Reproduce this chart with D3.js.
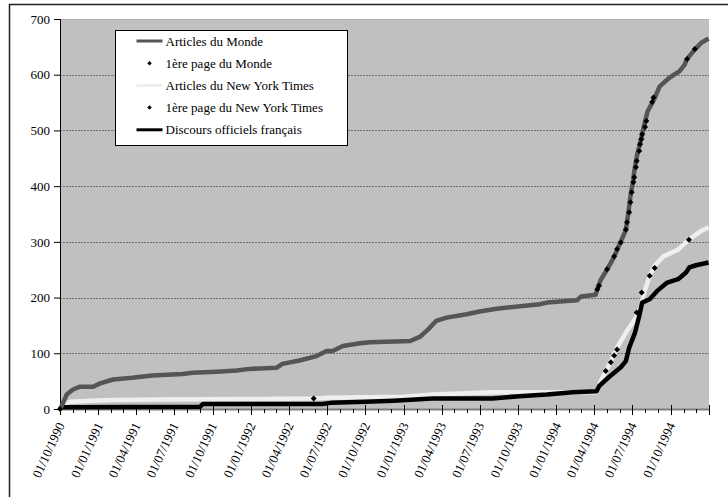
<!DOCTYPE html>
<html>
<head>
<meta charset="utf-8">
<title>Articles et discours</title>
<script src="https://cdn.jsdelivr.net/npm/d3@7"></script>
<style>
body { margin: 0; background: #fff; }
svg { display: block; }
</style>
</head>
<body>
<script>
// Cumulative counts, [date, value]
const mondeArticles = [
  ["1990-10-01", 0], ["1990-10-05", 5], ["1990-10-17", 26], ["1990-11-01", 35], ["1990-11-18", 40],
  ["1990-12-19", 40], ["1991-01-05", 46], ["1991-02-05", 53], ["1991-03-23", 56], ["1991-05-10", 60],
  ["1991-07-21", 63], ["1991-08-14", 65], ["1991-10-11", 67], ["1991-11-28", 69], ["1991-12-29", 72],
  ["1992-03-02", 74], ["1992-03-16", 81], ["1992-04-26", 87], ["1992-06-06", 95], ["1992-06-30", 104],
  ["1992-07-14", 104], ["1992-08-08", 113], ["1992-09-18", 118], ["1992-10-11", 120], ["1993-01-16", 122],
  ["1993-02-09", 130], ["1993-02-28", 143], ["1993-03-19", 158], ["1993-04-13", 164], ["1993-05-31", 170],
  ["1993-07-01", 175], ["1993-08-11", 180], ["1993-11-22", 188], ["1993-12-09", 191], ["1994-02-19", 195],
  ["1994-03-01", 202], ["1994-04-05", 205], ["1994-04-08", 214], ["1994-04-17", 232], ["1994-05-02", 250],
  ["1994-05-19", 273], ["1994-06-04", 301], ["1994-06-16", 321], ["1994-06-22", 352], ["1994-06-27", 382],
  ["1994-07-04", 412], ["1994-07-06", 426], ["1994-07-13", 456], ["1994-07-22", 483], ["1994-07-30", 510],
  ["1994-08-07", 534], ["1994-08-24", 558], ["1994-09-05", 579], ["1994-09-29", 595], ["1994-10-22", 606],
  ["1994-11-04", 618], ["1994-11-08", 627], ["1994-11-28", 645], ["1994-12-13", 657], ["1994-12-31", 665]
];

const mondeUne = [
  ["1990-10-01", 0], ["1994-04-09", 215], ["1994-04-13", 221], ["1994-05-02", 251], ["1994-05-19", 274],
  ["1994-05-26", 287], ["1994-06-04", 299], ["1994-06-16", 322], ["1994-06-19", 335], ["1994-06-24", 353],
  ["1994-06-27", 371], ["1994-06-30", 389], ["1994-07-04", 407], ["1994-07-06", 416], ["1994-07-10", 434],
  ["1994-07-12", 445], ["1994-07-18", 463], ["1994-07-20", 475], ["1994-07-23", 484], ["1994-07-25", 493],
  ["1994-08-01", 506], ["1994-08-04", 517], ["1994-08-18", 551], ["1994-08-21", 559], ["1994-11-10", 628],
  ["1994-11-28", 646]
];

const nytArticles = [
  ["1990-10-01", 0], ["1990-10-10", 8], ["1990-10-25", 13], ["1990-12-15", 15], ["1991-02-01", 16],
  ["1991-06-01", 17], ["1992-01-01", 18], ["1992-05-30", 19], ["1992-07-01", 20], ["1992-10-01", 21],
  ["1993-01-01", 22], ["1993-03-10", 26], ["1993-08-01", 30], ["1993-12-09", 30], ["1994-04-07", 30],
  ["1994-04-17", 50], ["1994-05-02", 71], ["1994-05-26", 110], ["1994-06-16", 137], ["1994-07-10", 164],
  ["1994-07-22", 185], ["1994-07-30", 209], ["1994-08-12", 239], ["1994-08-24", 257], ["1994-09-14", 274],
  ["1994-10-19", 286], ["1994-11-14", 304], ["1994-12-12", 319], ["1994-12-31", 326]
];

const nytUne = [
  ["1992-05-30", 19], ["1994-04-29", 68], ["1994-05-11", 84], ["1994-05-19", 96], ["1994-05-26", 107],
  ["1994-07-12", 173], ["1994-07-24", 209], ["1994-08-12", 239], ["1994-08-24", 253], ["1994-11-14", 304]
];

const discours = [
  ["1990-10-01", 0], ["1990-10-05", 3], ["1991-09-01", 4], ["1991-09-08", 9], ["1992-06-20", 9],
  ["1992-07-10", 11], ["1992-10-01", 13], ["1992-12-07", 15], ["1993-03-10", 19], ["1993-08-01", 19],
  ["1993-10-04", 23], ["1993-12-09", 26], ["1994-02-09", 30], ["1994-04-07", 32], ["1994-04-13", 41],
  ["1994-05-06", 57], ["1994-06-04", 75], ["1994-06-16", 86], ["1994-06-24", 110], ["1994-07-08", 137],
  ["1994-07-18", 167], ["1994-07-25", 191], ["1994-08-12", 197], ["1994-08-30", 212], ["1994-09-23", 227],
  ["1994-10-19", 233], ["1994-11-07", 245], ["1994-11-15", 254], ["1994-12-01", 258], ["1994-12-31", 263]
];

const legendLabels = [
  "Articles du Monde", "1ère page du Monde", "Articles du New York Times",
  "1ère page du New York Times", "Discours officiels français"
];
const yTicks = [0, 100, 200, 300, 400, 500, 600, 700];

const W = 728, H = 497;
const plot = { left: 60, right: 709, top: 19, bottom: 409 };
const FONT = "'Liberation Serif', 'Times New Roman', serif";

const parse = d3.timeParse("%Y-%m-%d");
const fmt = d3.timeFormat("%d/%m/%Y");
const toPts = arr => arr.map(d => ({ date: parse(d[0]), value: d[1] }));

const x = d3.scaleTime()
  .domain([parse("1990-10-01"), parse("1995-01-01")])
  .range([plot.left, plot.right]);
const y = d3.scaleLinear().domain([0, 700]).range([plot.bottom, plot.top]);

const svg = d3.select("body").append("svg").attr("width", W).attr("height", H);

// chart frame
svg.append("rect")
  .attr("x", 9.5).attr("y", 4.5).attr("width", 800).attr("height", 600)
  .attr("fill", "#fff").attr("stroke", "#222").attr("stroke-width", 1.5);

// plot background
svg.append("rect")
  .attr("x", plot.left).attr("y", plot.top)
  .attr("width", plot.right - plot.left).attr("height", plot.bottom - plot.top)
  .attr("fill", "#c0c0c0");

// gridlines
svg.append("g").selectAll("line")
  .data(yTicks.filter(d => d > 0))
  .join("line")
    .attr("x1", plot.left).attr("x2", plot.right)
    .attr("y1", d => Math.round(y(d)) + 0.5).attr("y2", d => Math.round(y(d)) + 0.5)
    .attr("stroke", d => d === 700 ? "#a8a8a8" : "#6e6e6e")
    .attr("stroke-dasharray", "2,1");

// y axis
const yAxis = svg.append("g").attr("transform", `translate(${plot.left},0)`)
  .call(d3.axisLeft(y).tickValues(yTicks).tickSize(6).tickPadding(4));
yAxis.select(".domain").attr("stroke", "#000");
yAxis.selectAll("text")
  .style("font-family", FONT).style("font-size", "13px").attr("fill", "#000");

// x axis
const xg = svg.append("g");
xg.append("line")
  .attr("x1", plot.left).attr("x2", plot.right)
  .attr("y1", plot.bottom + 0.5).attr("y2", plot.bottom + 0.5)
  .attr("stroke", "#808080").attr("stroke-width", 2);
const months = d3.timeMonth.range(parse("1990-10-01"), parse("1995-01-02"));
xg.selectAll("line.tick")
  .data(months)
  .join("line")
    .attr("class", "tick")
    .attr("x1", d => Math.round(x(d)) + 0.5).attr("x2", d => Math.round(x(d)) + 0.5)
    .attr("y1", d => d.getMonth() % 3 === 0 ? plot.bottom - 4 : plot.bottom)
    .attr("y2", d => d.getMonth() % 3 === 0 ? plot.bottom + 6 : plot.bottom + 4)
    .attr("stroke", "#000");
const quarters = months.filter(d => d.getMonth() % 3 === 0 && d < parse("1995-01-01"));
xg.selectAll("text")
  .data(quarters)
  .join("text")
    .attr("transform", d => `translate(${x(d) + 5},${plot.bottom + 16}) rotate(-65)`)
    .attr("text-anchor", "end")
    .style("font-family", FONT).style("font-size", "13px")
    .text(fmt);

// series
const line = d3.line().x(d => x(d.date)).y(d => y(d.value));
const series = [
  { data: nytArticles, color: "#efefef" },
  { data: discours, color: "#000" },
  { data: mondeArticles, color: "#555" }
];
svg.append("g").selectAll("path")
  .data(series)
  .join("path")
    .attr("d", d => line(toPts(d.data)))
    .attr("fill", "none")
    .attr("stroke", d => d.color)
    .attr("stroke-width", 4.5)
    .attr("stroke-linejoin", "round");

// first page markers
const diamond = d3.symbol(d3.symbolSquare, 18);
svg.append("g").selectAll("path")
  .data(toPts(mondeUne).concat(toPts(nytUne)))
  .join("path")
    .attr("d", diamond)
    .attr("transform", d => `translate(${x(d.date)},${y(d.value)}) rotate(45)`)
    .attr("fill", "#000");

// legend
const lg = svg.append("g").attr("transform", "translate(115.5,30.5)");
lg.append("rect").attr("width", 232).attr("height", 115)
  .attr("fill", "#fff").attr("stroke", "#000");
const legendItems = [
  { label: legendLabels[0], kind: "line", color: "#555" },
  { label: legendLabels[1], kind: "dot" },
  { label: legendLabels[2], kind: "line", color: "#efefef" },
  { label: legendLabels[3], kind: "dot" },
  { label: legendLabels[4], kind: "line", color: "#000" }
];
const rows = lg.selectAll("g.row")
  .data(legendItems)
  .join("g")
    .attr("class", "row")
    .attr("transform", (d, i) => `translate(0,${10.5 + i * 22.2})`);
rows.filter(d => d.kind === "line").append("line")
  .attr("x1", 21).attr("x2", 47)
  .attr("stroke", d => d.color).attr("stroke-width", 3);
rows.filter(d => d.kind === "dot").append("path")
  .attr("d", d3.symbol(d3.symbolSquare, 10))
  .attr("transform", "translate(34,0) rotate(45)")
  .attr("fill", "#000");
rows.append("text")
  .attr("x", 50).attr("dy", "0.35em")
  .style("font-family", FONT).style("font-size", "13px")
  .text(d => d.label);
</script>
</body>
</html>
